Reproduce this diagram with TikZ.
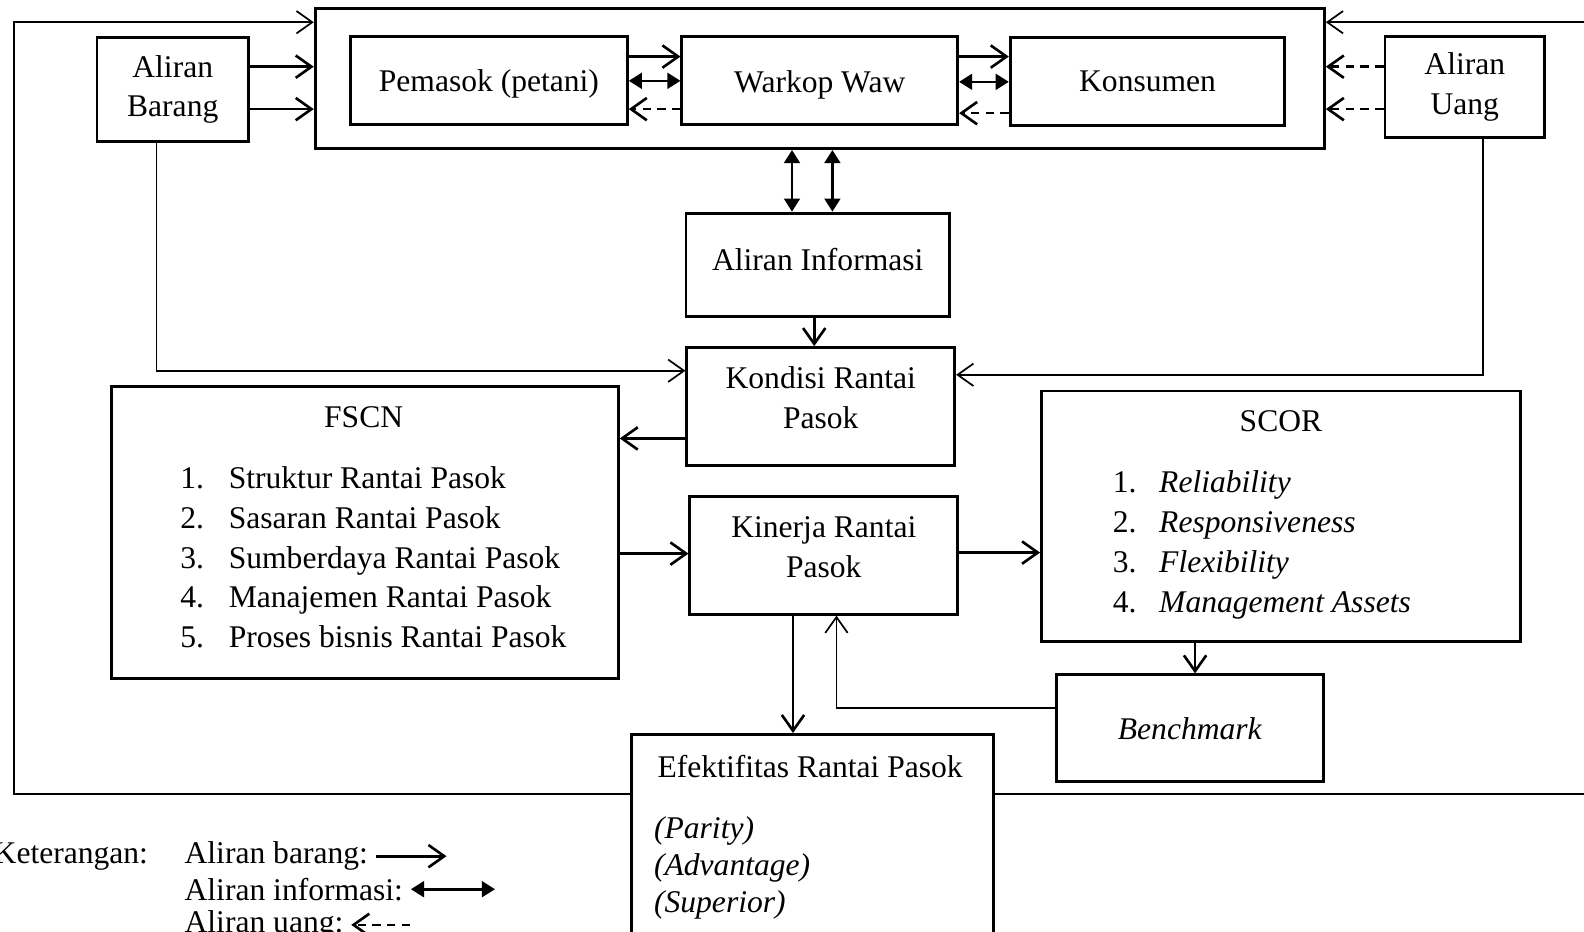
\documentclass[tikz,border=0pt]{standalone}
\usepackage{fontspec}
\setmainfont{Liberation Serif}
\usetikzlibrary{arrows.meta}

\begin{document}
\begin{tikzpicture}
	[x=0.384pt, y=-0.384pt,
	main box/.style={draw, line width=1.1pt, inner sep=0pt, align=center, font=\fontsize{12}{15}\selectfont},
	txt/.style={inner sep=0pt, font=\fontsize{12}{15}\selectfont},
	lgd/.style={txt, anchor=base west, outer xsep=3pt},
	goods/.style={line width=1pt, -{Straight Barb[length=6pt, width=8.5pt]}},
	info/.style={line width=1pt, {Triangle[length=5pt, width=6pt]}-{Triangle[length=5pt, width=6pt]}},
	money/.style={line width=1pt, dash pattern=on 3.2pt off 2.4pt, -{Straight Barb[length=6pt, width=8.5pt]}},
	loop line/.style={line width=0.65pt}]
	\useasboundingbox (0,0) rectangle (1568,922);

	%boxes
	\node[main box, minimum width=383.6pt, minimum height=53.4pt] (outer) at (811.5,77.5) {};
	\node[main box, minimum width=57.6pt, minimum height=39.6pt] (barang) at (171,88.5) {Aliran\\Barang};
	\node[main box, minimum width=105.2pt, minimum height=33.4pt, text height=11.3pt] (pemasok) at (484,79.5) {Pemasok (petani)};
	\node[main box, minimum width=104.8pt, minimum height=33.4pt, text height=11.8pt] (warkop) at (811.5,79.5) {Warkop Waw};
	\node[main box, minimum width=104.4pt, minimum height=33.4pt] (konsumen) at (1136,80.5) {Konsumen};
	\node[main box, minimum width=60.7pt, minimum height=38.4pt] (uang) at (1450,86) {Aliran\\Uang};
	\node[main box, minimum width=100.2pt, minimum height=39.2pt, text depth=3.8pt] (informasi) at (809.5,262) {Aliran Informasi};
	\node[main box, minimum width=101.8pt, minimum height=44.9pt, text depth=7pt] (kondisi) at (812.5,402.5) {Kondisi Rantai\\Pasok};
	\node[main box, minimum width=192.8pt, minimum height=111pt] (fscn) at (361,527.5) {};
	\node[main box, minimum width=101.8pt, minimum height=44.9pt, text depth=6pt] (kinerja) at (815.5,549.5) {Kinerja Rantai\\Pasok};
	\node[main box, minimum width=182pt, minimum height=95.2pt] (scor) at (1268,511) {};
	\node[main box, minimum width=101.4pt, minimum height=40.7pt] (benchmark) at (1178,721) {\textit{Benchmark}};
	\node[main box, minimum width=137.5pt, minimum height=83.7pt] (efektif) at (804,836) {};

	%texts in the list boxes
	\node[txt] (fscntitle) at (360,413) {FSCN};
	\foreach \t [count=\i] in {Struktur Rantai Pasok, Sasaran Rantai Pasok, Sumberdaya Rantai Pasok, Manajemen Rantai Pasok, Proses bisnis Rantai Pasok}{
		\node[txt, anchor=base west] (fnum\i) at (178, 444.75+39.25*\i) {\i.};
		\node[txt, anchor=base west] (fitem\i) at (226, 444.75+39.25*\i) {\t};
	}
	\node[txt] (scortitle) at (1268,417) {SCOR};
	\foreach \t [count=\i] in {Reliability, Responsiveness, Flexibility, Management Assets}{
		\node[txt, anchor=base west] (snum\i) at (1101, 448.7+39.3*\i) {\i.};
		\node[txt, anchor=base west] (sitem\i) at (1147, 448.7+39.3*\i) {\textit{\t}};
	}
	\node[txt] (efektiftitle) at (802,759) {Efektifitas Rantai Pasok};
	\foreach \t [count=\i] in {Parity, Advantage, Superior}{
		\node[txt, anchor=base west] (eitem\i) at (647, 793.5+36.5*\i) {\textit{(\t)}};
	}

	%flows in the chain
	\draw[goods] (barang.east |- 0,66) -- (outer.west |- 0,66);
	\draw[goods] (barang.east |- 0,108) -- (outer.west |- 0,108);
	\draw[goods] (pemasok.east |- 0,56) -- (warkop.west |- 0,56); %right
	\draw[info] (pemasok.east |- 0,80) -- (warkop.west |- 0,80);
	\draw[money] (warkop.west |- 0,108) -- (pemasok.east |- 0,108); %left
	\draw[goods] (warkop.east |- 0,56) -- (konsumen.west |- 0,56); %right
	\draw[info] (warkop.east |- 0,81) -- (konsumen.west |- 0,81);
	\draw[money] (konsumen.west |- 0,112) -- (warkop.east |- 0,112); %left
	\draw[money] (uang.west |- 0,66) -- (outer.east |- 0,66);
	\draw[money] (uang.west |- 0,108) -- (outer.east |- 0,108);

	%down to the performance
	\draw[info] (outer.south -| 784,0) -- (informasi.north -| 784,0);
	\draw[info] (outer.south -| 824,0) -- (informasi.north -| 824,0);
	\draw[goods] (informasi.south -| 806,0) -- (kondisi.north -| 806,0);
	\draw[goods, loop line] (barang.south -| 155,0) |- (kondisi.west |- 0,367);
	\draw[goods, loop line] (uang.south -| 1468,0) |- (kondisi.east |- 0,371);
	\draw[goods] (kondisi.west |- 0,434) -- (fscn.east |- 0,434);
	\draw[goods] (fscn.east |- 0,548) -- (kinerja.west |- 0,548);
	\draw[goods] (kinerja.east |- 0,547) -- (scor.west |- 0,547);
	\draw[goods] (scor.south -| 1183,0) -- (benchmark.north -| 1183,0);
	\draw[goods, loop line] (benchmark.west |- 0,701) -| (kinerja.south -| 828,0);
	\draw[goods] (kinerja.south -| 785,0) -- (efektif.north -| 785,0);

	%feedback loop
	\coordinate (lefttop) at (14,22);
	\coordinate (leftbottom) at (14,786);
	\coordinate (righttop) at (1600,22);
	\coordinate (rightbottom) at (1600,786);
	\draw[goods, loop line] (efektif.west |- leftbottom) -- (leftbottom) -- (lefttop) -- (outer.west |- lefttop);
	\draw[goods, loop line] (efektif.east |- rightbottom) -- (rightbottom) -- (righttop) -- (outer.east |- righttop);

	%legend
	\node[txt, anchor=base east] (keterangan) at (147,855) {Keterangan:};
	\node[lgd] (lgoods) at (175,855) {Aliran barang:};
	\node[lgd] (linfo) at (175,891) {Aliran informasi:};
	\node[lgd] (lmoney) at (175,923) {Aliran uang:};
	\coordinate (lgoodsend) at (442,0);
	\coordinate (linfoend) at (490,0);
	\coordinate (lmoneyend) at (406,0);
	\draw[goods] (lgoods.east) -- (lgoods.east -| lgoodsend);
	\draw[info] (linfo.east) -- (linfo.east -| linfoend);
	\draw[money] (lmoney.east -| lmoneyend) -- (lmoney.east);
\end{tikzpicture}
\end{document}
